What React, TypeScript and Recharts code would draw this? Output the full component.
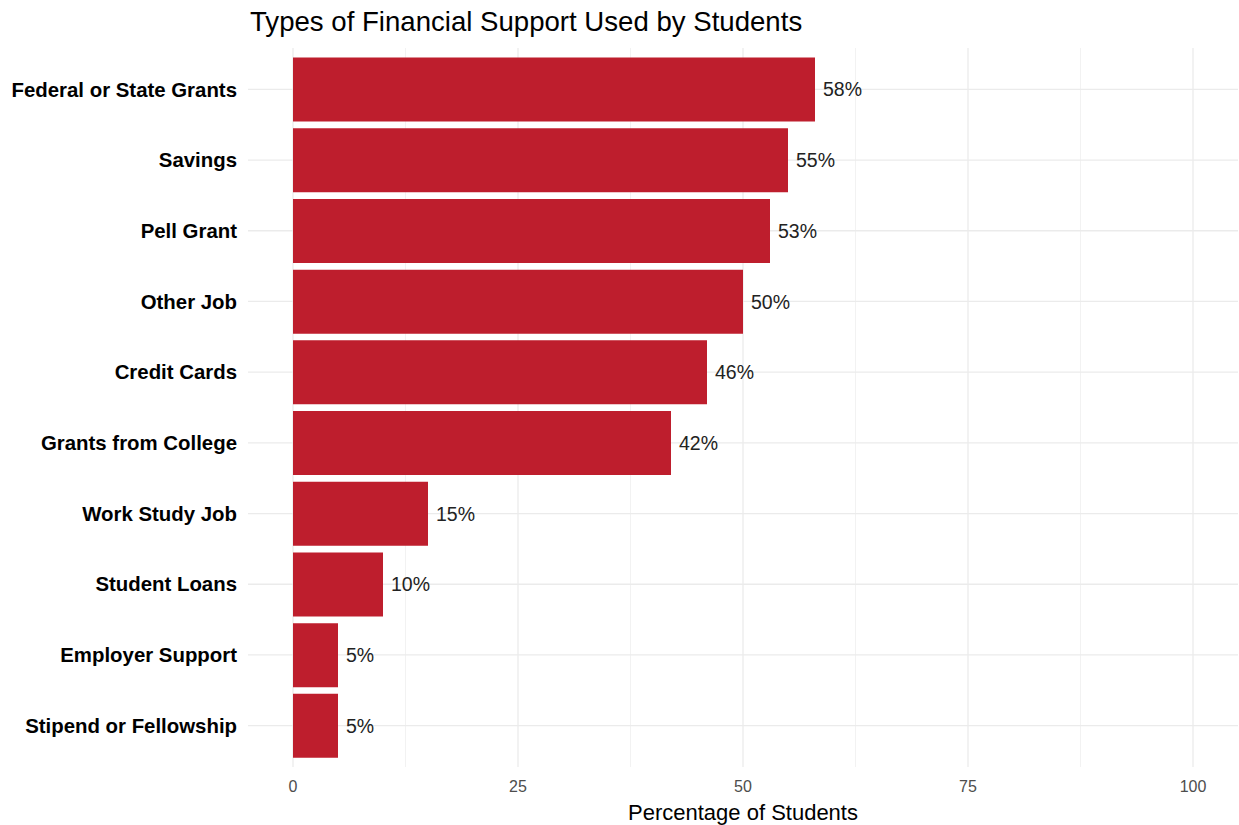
import React from 'react';
import { BarChart, Bar, XAxis, YAxis, CartesianGrid, LabelList } from 'recharts';

const categories = [
  'Federal or State Grants',
  'Savings',
  'Pell Grant',
  'Other Job',
  'Credit Cards',
  'Grants from College',
  'Work Study Job',
  'Student Loans',
  'Employer Support',
  'Stipend or Fellowship',
];
const percentages = [58, 55, 53, 50, 46, 42, 15, 10, 5, 5];
const xTicks = [0, 25, 50, 75, 100];
const minorTicks = [12.5, 37.5, 62.5, 87.5];

const data = categories.map((c, i) => ({ name: c, value: percentages[i] }));

const FONT = '"Liberation Sans", Arial, sans-serif';

const minorGen = (props: any) => {
  const { xAxis, offset } = props;
  if (xAxis && typeof xAxis.scale === 'function') {
    return minorTicks.map((t) => xAxis.scale(t));
  }
  const left = offset.left;
  const w = offset.width;
  return minorTicks.map((t) => left + ((t + 5) / 110) * w);
};

export default function App() {
  return (
    <div style={{ position: 'absolute', left: 0, top: 0, width: 1239, height: 825, background: '#fff', fontFamily: FONT }}>
      <div style={{ position: 'absolute', left: 250, top: 5, fontSize: 27.6, lineHeight: '34px', color: '#000', fontFamily: FONT, whiteSpace: 'nowrap' }}>
        Types of Financial Support Used by Students
      </div>
      <BarChart
        width={1239}
        height={825}
        data={data}
        layout="vertical"
        margin={{ top: 48, right: 1, bottom: 0, left: 0 }}
        barCategoryGap="5%"
      >
        <CartesianGrid horizontal={false} vertical={true} syncWithTicks={true} verticalCoordinatesGenerator={minorGen} stroke="#f2f2f2" strokeWidth={1} />
        <CartesianGrid horizontal={true} vertical={true} syncWithTicks={true} stroke="#ebebeb" strokeWidth={1.3} />
        <XAxis
          type="number"
          domain={[-5, 105]}
          ticks={xTicks}
          axisLine={false}
          tickLine={false}
          tickSize={0}
          tickMargin={14}
          height={58}
          tick={{ fill: '#4d4d4d', fontSize: 16, fontFamily: FONT }}
          label={{ value: 'Percentage of Students', position: 'insideBottom', offset: 5, fill: '#000', fontSize: 22, fontFamily: FONT }}
        />
        <YAxis
          type="category"
          dataKey="name"
          width={248}
          axisLine={false}
          tickLine={false}
          tickSize={0}
          tickMargin={11}
          padding={{ top: 6, bottom: 6 }}
          tick={{ fill: '#000', fontSize: 20.4, fontWeight: 'bold', fontFamily: FONT }}
          interval={0}
        />
        <Bar dataKey="value" fill="#BE1E2D" isAnimationActive={false}>
          <LabelList
            dataKey="value"
            position="right"
            offset={8}
            formatter={(v: any) => v + '%'}
            style={{ fill: '#222', fontSize: 19.5, fontFamily: FONT }}
          />
        </Bar>
      </BarChart>
    </div>
  );
}
